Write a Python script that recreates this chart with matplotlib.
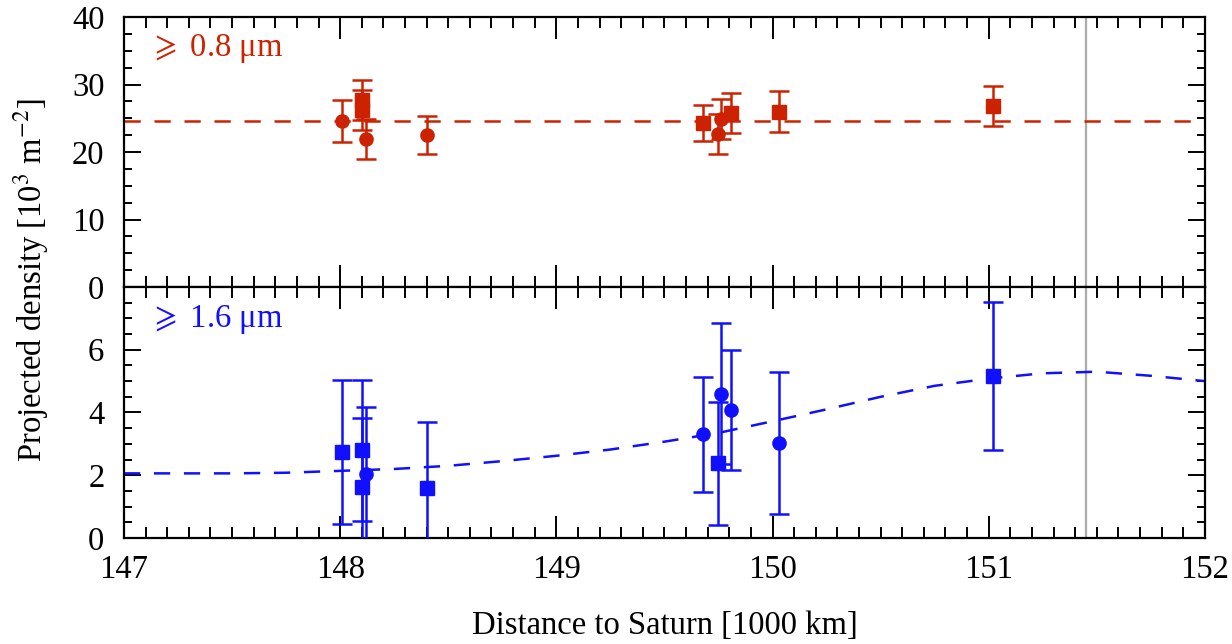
import numpy as np
import matplotlib.pyplot as plt
from matplotlib.ticker import MultipleLocator

plt.rcParams['font.family'] = ['Liberation Serif', 'DejaVu Serif']
plt.rcParams['mathtext.fontset'] = 'stix'

# distance to Saturn [1000 km] of each measurement
dist = [148.01, 148.10, 148.10, 148.12, 148.40, 149.68, 149.75, 149.76, 149.81, 150.03, 151.02]

# >= 0.8 um population [10^3 m^-2]
small_val = [24.6, 27.7, 26.2, 21.9, 22.5, 24.3, 22.7, 24.9, 25.8, 26.0, 26.8]
small_err = [3.1, 3.0, 3.0, 3.0, 2.8, 2.6, 3.0, 2.9, 3.0, 3.0, 3.0]
small_mark = ['o', 's', 's', 'o', 'o', 's', 'o', 'o', 's', 's', 's']
small_fit = 24.6

# >= 1.6 um population
big_val = [2.75, 2.8, 1.61, 2.03, 1.6, 3.3, 2.38, 4.6, 4.08, 3.03, 5.16]
big_err = [2.3, 2.25, 2.2, 2.13, 2.1, 1.83, 1.95, 2.25, 1.9, 2.27, 2.35]
big_mark = ['s', 's', 's', 'o', 's', 'o', 's', 'o', 'o', 'o', 's']

# model curve
curve_x = [147.0, 147.25, 147.5, 147.75, 148.0, 148.25, 148.5, 148.75, 149.0, 149.25,
           149.5, 149.75, 150.0, 150.25, 150.5, 150.75, 151.0, 151.25, 151.5, 151.75, 152.0]
curve_y = [2.06, 2.06, 2.06, 2.08, 2.14, 2.2, 2.3, 2.45, 2.62, 2.82,
           3.07, 3.35, 3.72, 4.1, 4.5, 4.85, 5.08, 5.25, 5.3, 5.17, 5.0]

ring_edge = 151.45

red = '#cc2200'
blue = '#1010ff'
fs = 23.5

fig = plt.figure(figsize=(12.32, 6.44), dpi=100)
gs = fig.add_gridspec(2, 1, height_ratios=[270, 251], hspace=0,
                      left=0.1006, right=0.978, top=0.9736, bottom=0.1646)
ax1 = fig.add_subplot(gs[0])
ax2 = fig.add_subplot(gs[1], sharex=ax1)


def draw_points(ax, vals, errs, marks, color):
    for x, y, e, m in zip(dist, vals, errs, marks):
        ax.errorbar(x, y, yerr=e, fmt=m, color=color, ms=9.5, capsize=7,
                    elinewidth=1.8, capthick=1.8, zorder=3)


ax1.axhline(small_fit, color=red, ls=(0, (6.5, 5.5)), lw=1.8, zorder=2)
draw_points(ax1, small_val, small_err, small_mark, red)
ax2.plot(curve_x, curve_y, color=blue, ls=(0, (6.5, 5.5)), lw=1.8, zorder=2)
draw_points(ax2, big_val, big_err, big_mark, blue)

for ax in (ax1, ax2):
    ax.axvline(ring_edge, color='#aaaaaa', lw=1.6, zorder=1)
    ax.set_xlim(147, 152)
    ax.xaxis.set_major_locator(MultipleLocator(1))
    ax.xaxis.set_minor_locator(MultipleLocator(0.1))
    ax.tick_params(which='both', direction='in', top=True, right=True,
                   width=1.4, labelsize=fs)
    ax.tick_params(axis='x', which='major', length=16)
    ax.tick_params(axis='x', which='minor', length=8)
    ax.tick_params(axis='y', which='major', length=12, pad=14)
    ax.tick_params(axis='y', which='minor', length=6)
    for sp in ax.spines.values():
        sp.set_linewidth(1.6)

ax1.set_ylim(0, 40)
ax1.set_yticks([0, 10, 20, 30, 40])
ax1.yaxis.set_minor_locator(MultipleLocator(2.5))
ax1.tick_params(axis='x', labelbottom=False)

ax2.set_ylim(0, 8)
ax2.set_yticks([0, 2, 4, 6])
ax2.yaxis.set_minor_locator(MultipleLocator(0.5))
ax2.tick_params(axis='x', pad=12)

ax1.text(0.024, 0.885, r'$\geqslant$ 0.8 μm', transform=ax1.transAxes,
         color=red, fontsize=fs, va='center')
ax2.text(0.024, 0.869, r'$\geqslant$ 1.6 μm', transform=ax2.transAxes,
         color=blue, fontsize=fs, va='center')

ax2.set_xlabel('Distance to Saturn [1000 km]', fontsize=fs, labelpad=18)
fig.text(0.025, 0.565, r'Projected density [10$^3$ m$^{-2}$]', rotation=90,
         fontsize=fs, ha='center', va='center')

fig.savefig('out.png', dpi=100)
